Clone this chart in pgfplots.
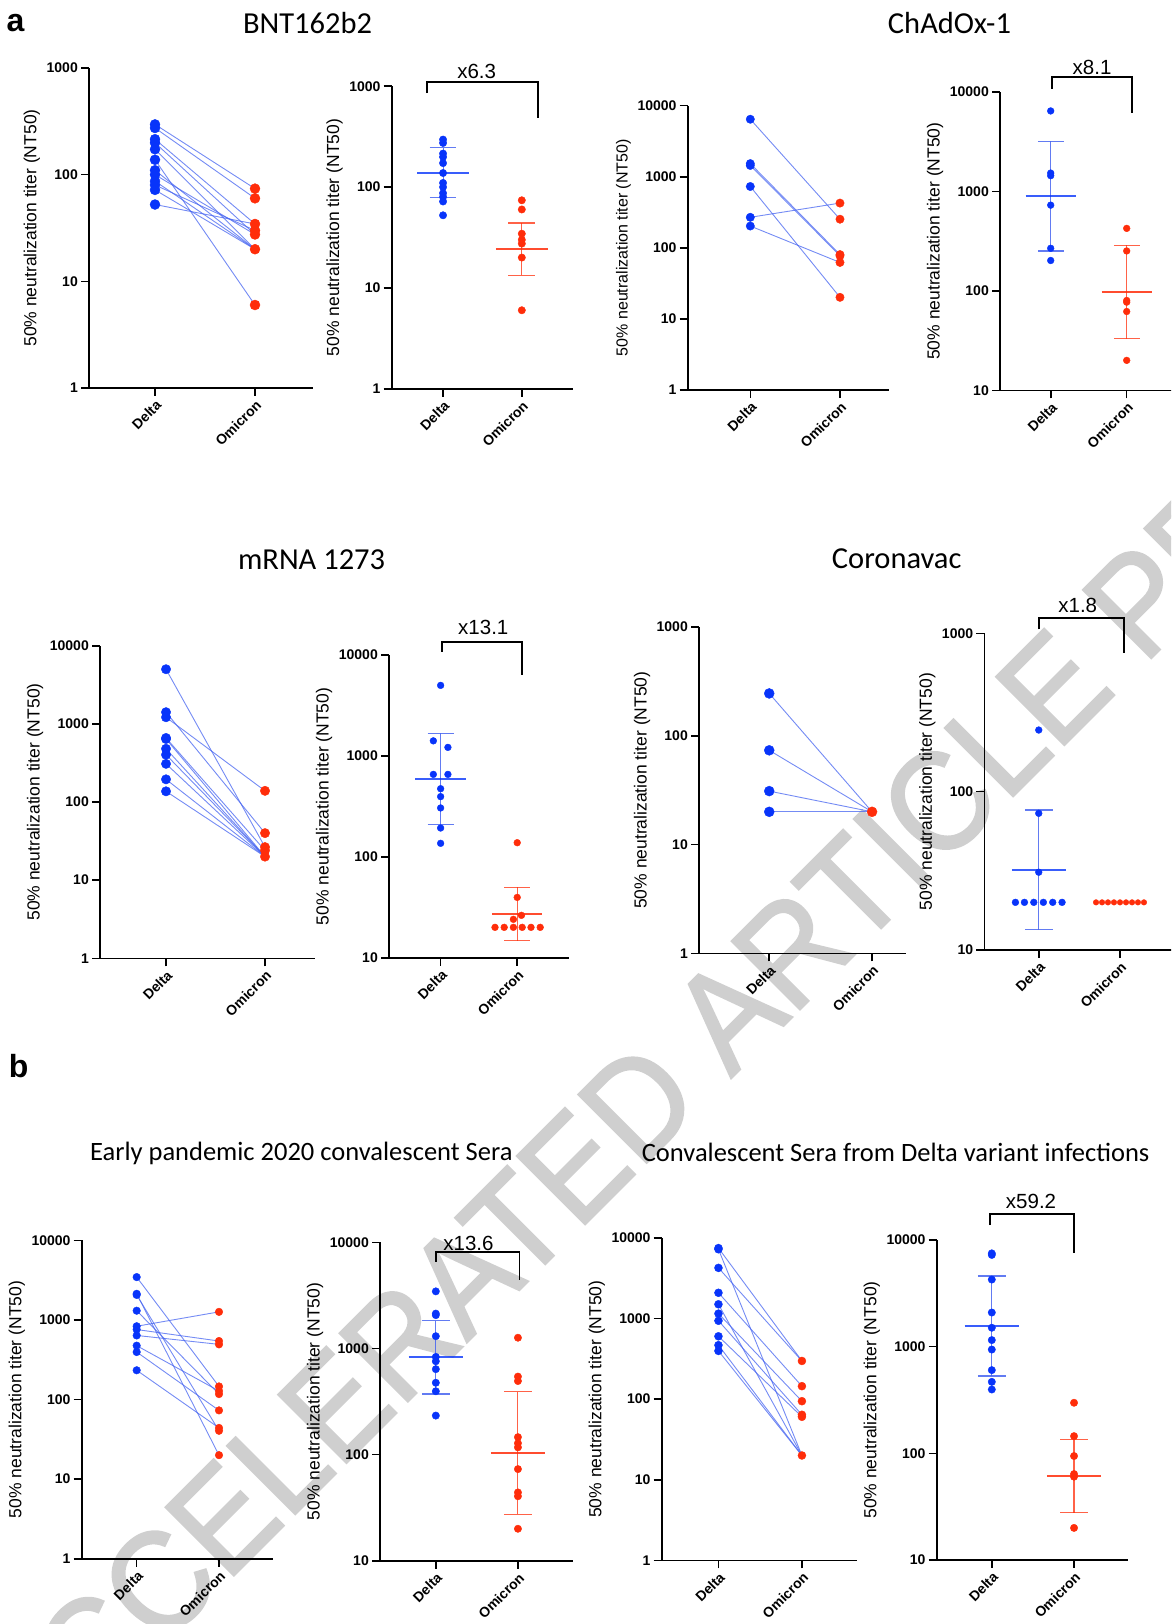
\documentclass[border=0pt]{standalone}
\usepackage{fontspec}
\setmainfont{Liberation Sans}
\newfontfamily\calib{Carlito}
\newfontfamily\wmfont[FakeBold=1.6]{Liberation Sans}
\usepackage{pgfplots}
\pgfplotsset{compat=1.18}
\definecolor{dblue}{RGB}{8,52,250}
\definecolor{ored}{RGB}{255,45,10}
\definecolor{lblue}{RGB}{70,100,240}
\definecolor{wm}{RGB}{207,207,207}
\newcommand\fs[1]{\fontsize{#1}{#1}\selectfont}
\tikzset{brk/.style={black, line width=1.8pt}}
\pgfplotsset{
 ntaxis/.style={
   scale only axis, clip=false, anchor=south west,
   axis x line*=bottom, axis y line*=left,
   axis line style={-, line width=1.6pt},
   tick style={line width=1.6pt, black},
   tick align=outside, major tick length=8pt,
   yminorticks=false, xminorticks=false,
   xtick={1,2}, xticklabels={Delta,Omicron},
   xticklabel style={rotate=45, anchor=north east, font=\bfseries\fs{14}, inner sep=2pt},
   yticklabel style={font=\bfseries\fs{14}, inner sep=3pt},
   ylabel={50\% neutralization titer (NT50)},
   ylabel style={font=\fs{17.5}},
 },
 pline/.style={lblue, line width=0.9pt, opacity=0.75, forget plot},
 bpts/.style={only marks, mark=*, draw=dblue, fill=dblue, mark options={draw=dblue, fill=dblue}},
 rpts/.style={only marks, mark=*, draw=ored, fill=ored, mark options={draw=ored, fill=ored}},
 bmean/.style={dblue, line width=1.8pt, opacity=0.8},
 berr/.style={lblue, line width=1.1pt, opacity=0.85},
 rmean/.style={ored, line width=1.8pt, opacity=0.85},
 rerr/.style={ored, line width=1.1pt, opacity=0.75},
}
\newcommand\pr[2]{\addplot[pline] coordinates {(1,#1)(2,#2)};}
\newcommand\msdB[3]{%
 \addplot[berr] coordinates {(1,#2)(1,#3)};
 \addplot[berr] coordinates {(0.83,#2)(1.17,#2)};
 \addplot[berr] coordinates {(0.83,#3)(1.17,#3)};
 \addplot[bmean] coordinates {(0.67,#1)(1.33,#1)};}
\newcommand\msdR[3]{%
 \addplot[rerr] coordinates {(2,#2)(2,#3)};
 \addplot[rerr] coordinates {(1.83,#2)(2.17,#2)};
 \addplot[rerr] coordinates {(1.83,#3)(2.17,#3)};
 \addplot[rmean] coordinates {(1.67,#1)(2.33,#1)};}
\begin{document}
\begin{tikzpicture}
\useasboundingbox (0,0) rectangle (1171pt,-1624pt);
\clip (0,0) rectangle (1171pt,-1624pt);
% watermark
\node[rotate=45, text=wm, font=\wmfont\fs{140}] at (766pt,-975pt) {\scalebox{0.93}[1]{ACCELERATED ARTICLE PREVIEW}};
% titles
\node[font=\bfseries\fs{32}] at (15.5pt,-23pt) {a};
\node[font=\bfseries\fs{32}] at (18.6pt,-1066.5pt) {b};
\node[font=\calib\fs{30.5}] at (307.5pt,-23pt) {BNT162b2};
\node[font=\calib\fs{30.5}] at (949.5pt,-23pt) {ChAdOx-1};
\node[font=\calib\fs{30.5}] at (311.6pt,-560pt) {mRNA 1273};
\node[font=\calib\fs{30.5}] at (896.7pt,-559pt) {Coronavac};
\node[font=\calib\fs{26.5}] at (301.3pt,-1153.5pt) {Early pandemic 2020 convalescent Sera};
\node[font=\calib\fs{26.5}] at (895.6pt,-1152.4pt) {Convalescent Sera from Delta variant infections};

% P1 BNT paired
\begin{axis}[ymode=log, ntaxis, at={(89pt,-388pt)}, width=224pt, height=320pt, xmin=0.34, xmax=2.58, ymin=1, ymax=1000,
  ytick={1,10,100,1000}, yticklabels={1,10,100,1000}]
\pr{296}{74}\pr{274}{60}\pr{215}{34.5}\pr{199}{27.5}\pr{173}{20}\pr{138}{6}
\pr{110}{20}\pr{100}{27.5}\pr{87}{20}\pr{80}{30}\pr{72}{20}\pr{52.5}{34.5}
\addplot[bpts, mark size=5pt] coordinates {(1,296)(1,274)(1,215)(1,199)(1,173)(1,138)(1,110)(1,100)(1,87)(1,80)(1,72)(1,52.5)};
\addplot[rpts, mark size=5pt] coordinates {(2,74)(2,60)(2,34.5)(2,30)(2,27.5)(2,20)(2,6)};
\end{axis}

% P2 BNT scatter
\begin{axis}[ymode=log, ntaxis, at={(391.7pt,-388.7pt)}, width=181.3pt, height=302.4pt, xmin=0.348, xmax=2.65, ymin=1, ymax=1000,
  ytick={1,10,100,1000}, yticklabels={1,10,100,1000}]
\addplot[bpts, mark size=3.7pt] coordinates {(1,296)(1,274)(1,215)(1,199)(1,173)(1,138)(1,110)(1,100)(1,87)(1,80)(1,72)(1,52.5)};
\addplot[rpts, mark size=3.7pt] coordinates {(2,74)(2,60)(2,34.5)(2,30)(2,27.5)(2,20)(2,6)};
\msdB{138}{78.5}{246}
\msdR{24.1}{13.3}{44}
\draw[brk] (axis cs:0.796,858) |- (axis cs:2.205,1103) -- (axis cs:2.205,485);
\node[font=\fs{20.5}] at (axis cs:1.427,1419) {x6.3};
\end{axis}

% P3 ChAdOx paired
\begin{axis}[ymode=log, ntaxis, at={(687.7pt,-389.7pt)}, width=201.6pt, height=284pt, xmin=0.302, xmax=2.55, ymin=1, ymax=10000,
  ytick={1,10,100,1000,10000}, yticklabels={1,10,100,1000,10000}, ylabel style={font=\fs{16}}]
\pr{6450}{252}\pr{1530}{80}\pr{1440}{77}\pr{728}{20}\pr{268}{425}\pr{202}{62}
\addplot[bpts, mark size=4.2pt] coordinates {(1,6450)(1,1530)(1,1440)(1,728)(1,268)(1,202)};
\addplot[rpts, mark size=4.2pt] coordinates {(2,425)(2,252)(2,80)(2,77)(2,62)(2,20)};
\end{axis}

% P4 ChAdOx scatter
\begin{axis}[ymode=log, ntaxis, at={(1000pt,-390.3pt)}, width=173.8pt, height=298.3pt, xmin=0.333, xmax=2.62, ymin=10, ymax=10000,
  ytick={10,100,1000,10000}, yticklabels={10,100,1000,10000}]
\addplot[bpts, mark size=3.4pt] coordinates {(1,6450)(1,1530)(1,1440)(1,728)(1,268)(1,202)};
\addplot[rpts, mark size=3.4pt] coordinates {(2,425)(2,252)(2,80)(2,77)(2,62)(2,20)};
\msdB{900}{252}{3190}
\msdR{97.5}{33}{287}
\draw[brk] (axis cs:1.013,10790) |- (axis cs:2.066,14160) -- (axis cs:2.066,6190);
\node[font=\fs{20.5}] at (axis cs:1.544,17850) {x8.1};
\end{axis}

% P5 mRNA paired
\begin{axis}[ymode=log, ntaxis, at={(100pt,-958.3pt)}, width=214.5pt, height=312.6pt, xmin=0.333, xmax=2.5, ymin=1, ymax=10000,
  ytick={1,10,100,1000,10000}, yticklabels={1,10,100,1000,10000}]
\pr{5000}{26.5}\pr{1410}{40}\pr{1215}{139}\pr{660}{24}\pr{640}{20}\pr{480}{20}\pr{403}{20}\pr{308}{20}\pr{195}{20}\pr{137}{20}
\addplot[bpts, mark size=4.7pt] coordinates {(1,5000)(1,1410)(1,1215)(1,660)(1,640)(1,480)(1,403)(1,308)(1,195)(1,137)};
\addplot[rpts, mark size=4.7pt] coordinates {(2,139)(2,40)(2,26.5)(2,24)(2,20)};
\end{axis}

% P6 mRNA scatter
\begin{axis}[ymode=log, ntaxis, at={(389pt,-957.7pt)}, width=180.3pt, height=302.7pt, xmin=0.326, xmax=2.68, ymin=10, ymax=10000,
  ytick={10,100,1000,10000}, yticklabels={10,100,1000,10000}]
\addplot[bpts, mark size=3.4pt] coordinates {(1,5000)(0.905,1410)(1.095,1215)(0.905,656)(1.095,656)(1,473)(1,395)(1,305)(1,193)(1,136)};
\addplot[rpts, mark size=3.4pt] coordinates {(2,138)(2,39.6)(2.055,26.3)(1.95,24)(1.71,20)(1.83,20)(1.95,20)(2.065,20)(2.18,20)(2.30,20)};
\msdB{590}{207}{1675}
\msdR{27.1}{14.8}{49.8}
\draw[brk] (axis cs:1.014,10780) |- (axis cs:2.066,13550) -- (axis cs:2.066,6340);
\node[font=\fs{20.5}] at (axis cs:1.557,18820) {x13.1};
\end{axis}

% P7 Coronavac paired
\begin{axis}[ymode=log, ntaxis, at={(699pt,-953.3pt)}, width=207pt, height=326.3pt, xmin=0.317, xmax=2.33, ymin=1, ymax=1000,
  ytick={1,10,100,1000}, yticklabels={1,10,100,1000}]
\pr{245}{20}\pr{73.5}{20}\pr{31}{20}\pr{20}{20}
\addplot[bpts, mark size=5pt] coordinates {(1,245)(1,73.5)(1,31)(1,20)};
\addplot[rpts, mark size=5pt] coordinates {(2,20)};
\end{axis}

% P8 Coronavac scatter
\begin{axis}[ymode=log, ntaxis, at={(984.3pt,-950pt)}, width=188.5pt, height=316.7pt, xmin=0.33, xmax=2.65, ymin=10, ymax=1000,
  ytick={10,100,1000}, yticklabels={10,100,1000}]
\addplot[bpts, mark size=3.4pt] coordinates {(1,245)(1,73)(1,31)(0.713,20)(0.824,20)(0.939,20)(1.057,20)(1.172,20)(1.287,20)};
\addplot[rpts, mark size=2.8pt] coordinates {(1.705,20)(1.779,20)(1.852,20)(1.926,20)(2,20)(2.074,20)(2.148,20)(2.221,20)(2.295,20)};
\msdB{32}{13.4}{76.6}
\draw[brk] (axis cs:1.007,1060) |- (axis cs:2.053,1244) -- (axis cs:2.053,748);
\node[font=\fs{20.5}] at (axis cs:1.48,1510) {x1.8};
\end{axis}

% P9 early pandemic paired
\begin{axis}[ymode=log, ntaxis, at={(81.7pt,-1558.7pt)}, width=190.8pt, height=318.4pt, xmin=0.332, xmax=2.65, ymin=1, ymax=10000,
  ytick={1,10,100,1000,10000}, yticklabels={1,10,100,1000,10000}]
\pr{3450}{146}\pr{2130}{20}\pr{2060}{40.5}\pr{1305}{117}\pr{833}{1262}\pr{757}{543}\pr{638}{493}\pr{475}{128}\pr{395}{73}\pr{233}{44}
\addplot[bpts, mark size=3.8pt] coordinates {(1,3450)(1,2130)(1,2060)(1,1305)(1,833)(1,757)(1,638)(1,475)(1,395)(1,233)};
\addplot[rpts, mark size=3.8pt] coordinates {(2,1262)(2,543)(2,493)(2,146)(2,128)(2,117)(2,73)(2,44)(2,40.5)(2,20)};
\end{axis}

% P10 early pandemic scatter
\begin{axis}[ymode=log, ntaxis, at={(380pt,-1560.7pt)}, width=192.7pt, height=318.4pt, xmin=0.32, xmax=2.67, ymin=10, ymax=10000,
  ytick={10,100,1000,10000}, yticklabels={10,100,1000,10000}]
\addplot[bpts, mark size=3.7pt] coordinates {(1,3450)(1,2130)(1,2060)(1,1305)(1,833)(1,757)(1,638)(1,475)(1,395)(1,233)};
\addplot[rpts, mark size=3.7pt] coordinates {(2,1262)(2,543)(2,493)(2,146)(2,128)(2,117)(2,73)(2,44)(2,40.5)(2,20)};
\msdB{824}{372}{1828}
\msdR{102.6}{27.3}{391}
\draw[brk] (axis cs:0.999,6565) |- (axis cs:2.019,8150) -- (axis cs:2.019,4415);
\node[font=\fs{20.5}] at (axis cs:1.397,9785) {x13.6};
\end{axis}

% P11 Delta conv paired
\begin{axis}[ymode=log, ntaxis, at={(661.7pt,-1560.3pt)}, width=195.3pt, height=322.3pt, xmin=0.32, xmax=2.66, ymin=1, ymax=10000,
  ytick={1,10,100,1000,10000}, yticklabels={1,10,100,1000,10000}]
\pr{7500}{298}\pr{4260}{298}\pr{7250}{20}\pr{2090}{145}\pr{1505}{20}\pr{1153}{94.4}\pr{940}{64}\pr{603}{60.4}\pr{468}{20}\pr{397}{20}
\addplot[bpts, mark size=4pt] coordinates {(1,7500)(1,7250)(1,4260)(1,2090)(1,1505)(1,1153)(1,940)(1,603)(1,468)(1,397)};
\addplot[rpts, mark size=4pt] coordinates {(2,298)(2,145)(2,94.4)(2,64)(2,60.4)(2,20)};
\end{axis}

% P12 Delta conv scatter
\begin{axis}[ymode=log, ntaxis, at={(936.7pt,-1560pt)}, width=191.6pt, height=320pt, xmin=0.33, xmax=2.66, ymin=10, ymax=10000,
  ytick={10,100,1000,10000}, yticklabels={10,100,1000,10000}]
\addplot[bpts, mark size=3.7pt] coordinates {(1,7500)(1,7250)(1,4260)(1,2090)(1,1505)(1,1153)(1,940)(1,603)(1,468)(1,397)};
\addplot[rpts, mark size=3.7pt] coordinates {(2,298)(2,145)(2,94.4)(2,64)(2,60.4)(2,20)};
\msdB{1563}{531}{4597}
\msdR{61.3}{27.8}{135}
\draw[brk] (axis cs:0.978,13820) |- (axis cs:2.0,17400) -- (axis cs:2.0,7605);
\node[font=\fs{20.5}] at (axis cs:1.477,22860) {x59.2};
\end{axis}
\end{tikzpicture}
\end{document}
